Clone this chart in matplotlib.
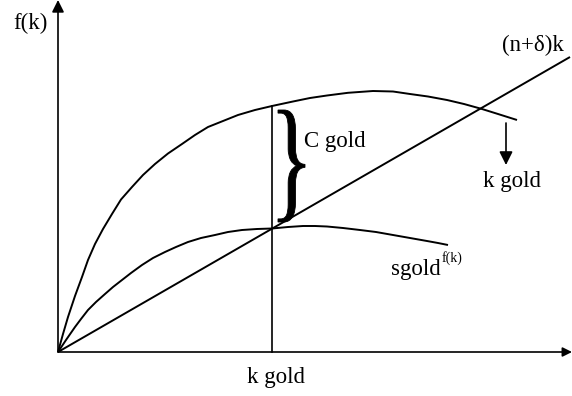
import numpy as np
import matplotlib.pyplot as plt
from matplotlib.textpath import TextPath
from matplotlib.patches import PathPatch
from matplotlib.font_manager import FontProperties
from matplotlib.transforms import Affine2D

# values (arbitrary units: capital k, output)
k_f = [0, 5, 10, 17, 24, 30, 37, 45, 54, 63, 74, 85, 97, 110, 124, 137, 150, 165,
       180, 197, 214, 235, 252, 269, 290, 315, 335, 352, 370, 389, 406, 424, 440, 459]
y_f = [0, 18, 35, 56, 75, 92, 108, 123, 138, 152.5, 165, 177, 188, 198.5, 208, 217,
       225, 231, 237, 242, 246, 250.5, 254, 256.5, 259.2, 261, 260.5, 258, 255.5,
       252, 248, 243, 238, 232]

k_s = [0, 8, 17, 23, 30, 38, 47, 55, 64, 73, 84, 95, 107, 118, 130, 143, 157, 170,
       184, 199, 214, 230, 245, 257, 269, 285, 302, 318, 335, 352, 369, 380, 390]
y_s = [0, 12, 25, 33, 42, 50, 58, 65, 72, 79, 87, 94, 100, 105, 110, 114, 117, 120,
       122, 123, 123.5, 125, 126, 126, 125.5, 124, 122, 120, 117, 114, 111, 109, 107]

k_line = [0, 512]
y_line = [0, 295]

k_gold = 214
c_gold_top = 246
k_max = 514
y_max = 352

serif = 'Liberation Serif'
lw = 1.4

fig = plt.figure(figsize=(5.72, 3.96), dpi=100)
ax = fig.add_axes([0, 0, 1, 1])
ax.set_xlim(-58, 514)
ax.set_ylim(-44, 352)
ax.axis('off')

# axes with arrows
ax.annotate('', xy=(0, y_max), xytext=(0, 0),
            arrowprops=dict(arrowstyle='-|>', lw=1.2, color='black',
                            mutation_scale=18, shrinkA=0, shrinkB=0))
ax.annotate('', xy=(k_max, 0), xytext=(0, 0),
            arrowprops=dict(arrowstyle='-|>', lw=1.2, color='black',
                            mutation_scale=14, shrinkA=0, shrinkB=0))

ax.plot(k_f, y_f, color='black', lw=lw, solid_capstyle='butt', solid_joinstyle='round')
ax.plot(k_s, y_s, color='black', lw=lw, solid_capstyle='butt', solid_joinstyle='round')
ax.plot(k_line, y_line, color='black', lw=lw, solid_capstyle='butt')
ax.plot([k_gold, k_gold], [0, c_gold_top], color='black', lw=1.2)

# curly brace for C gold
tp = TextPath((0, 0), '}', prop=FontProperties(family=serif), size=10)
bb = tp.get_extents()
x0, x1, y0, y1 = 220, 247, 130, 242
tr = (Affine2D().translate(-bb.x0, -bb.y0)
      .scale((x1 - x0) / bb.width, (y1 - y0) / bb.height)
      .translate(x0, y0))
ax.add_patch(PathPatch(tr.transform_path(tp), facecolor='black',
                       edgecolor='black', lw=0.6))

# down arrow next to f(k)
ax.annotate('', xy=(448, 187), xytext=(448, 229),
            arrowprops=dict(arrowstyle='-|>', lw=1.2, color='black',
                            mutation_scale=20, shrinkA=0, shrinkB=0))

fs = 16.5
ax.text(-27, 329, 'f(k)', family=serif, fontsize=fs, ha='center', va='center')
ax.text(475, 307, '(n+δ)k', family=serif, fontsize=fs, ha='center', va='center')
ax.text(277, 210, 'C gold', family=serif, fontsize=fs, ha='center', va='center')
ax.text(454, 170, 'k gold', family=serif, fontsize=fs, ha='center', va='center')
ax.text(218, -26, 'k gold', family=serif, fontsize=fs, ha='center', va='center')
ax.text(333, 82, 'sgold', family=serif, fontsize=fs, ha='left', va='center')
ax.text(384, 94, 'f(k)', family=serif, fontsize=10, ha='left', va='center')

fig.savefig('out.png', dpi=100)
